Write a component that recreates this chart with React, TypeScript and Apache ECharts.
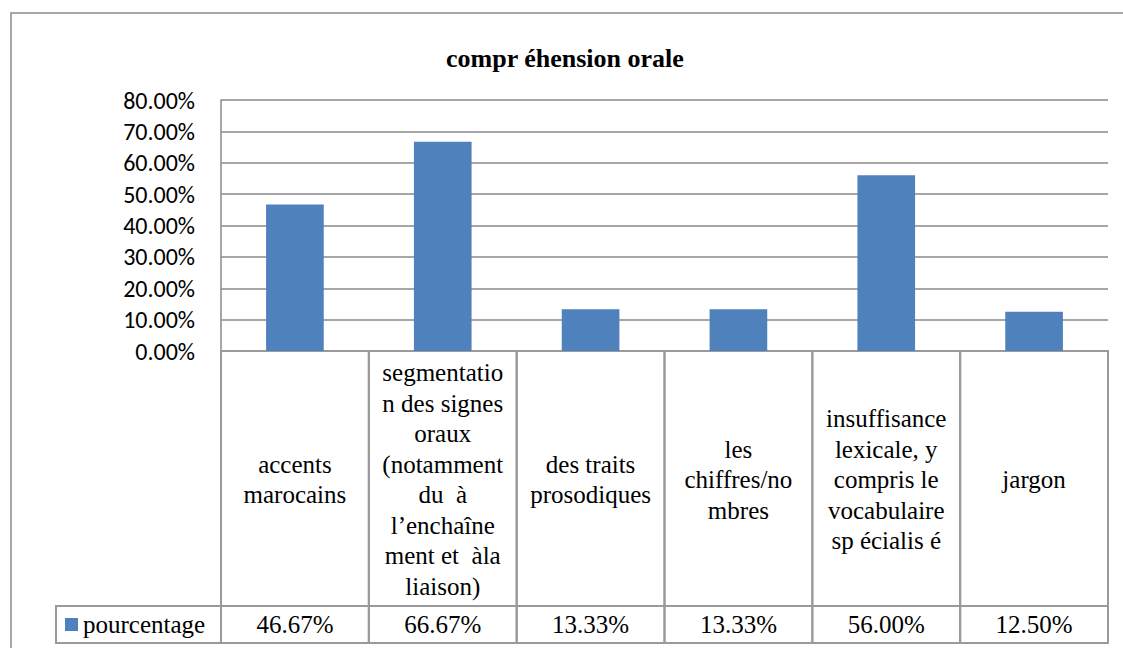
import React, { useEffect, useRef } from 'react';
import * as echarts from 'echarts';

const chartTitle = 'compr éhension orale';
const seriesName = 'pourcentage';
const categories = [
  'accents\nmarocains',
  'segmentatio\nn des signes\noraux\n(notamment\ndu  à\nl’enchaîne\nment et  àla\nliaison)',
  'des traits\nprosodiques',
  'les\nchiffres/no\nmbres',
  'insuffisance\nlexicale, y\ncompris le\nvocabulaire\nsp écialis é',
  'jargon',
];
const values = [46.67, 66.67, 13.33, 13.33, 56.0, 12.5];
const yMin = 0;
const yMax = 80;
const yInterval = 10;

const GRID_COLOR = '#8a8a8a';
const TABLE_COLOR = '#9a9a9a';
const BAR_COLOR = '#4F81BD';
const CAT_ROW_H = 255;
const VALUE_ROW_H = 37;

const fmt = (v: number) => `${v.toFixed(2)}%`;

export default function App() {
  const ref = useRef<HTMLDivElement>(null);

  useEffect(() => {
    if (!ref.current) return;
    const chart = echarts.init(ref.current, undefined, { renderer: 'svg' });

    chart.setOption({
      animation: false,
      textStyle: { fontFamily: 'Liberation Serif' },
      title: {
        text: chartTitle,
        left: 441,
        top: 40,
        textStyle: { fontFamily: 'Liberation Serif', fontSize: 26, fontWeight: 'bold', color: '#000' },
      },
      legend: {
        data: [seriesName],
        left: 60,
        top: 607,
        icon: 'rect',
        itemWidth: 13,
        itemHeight: 13,
        selectedMode: false,
        textStyle: { fontFamily: 'Liberation Serif', fontSize: 25, color: '#000' },
      },
      grid: { left: 221, top: 100, width: 887, height: 251 },
      xAxis: {
        type: 'category',
        data: categories,
        axisLabel: { show: false },
        axisTick: { show: false },
        axisLine: { show: true, lineStyle: { color: GRID_COLOR, width: 1.5 } },
      },
      yAxis: {
        type: 'value',
        min: yMin,
        max: yMax,
        interval: yInterval,
        axisLine: { show: true, lineStyle: { color: GRID_COLOR, width: 1.5 } },
        axisTick: { show: false },
        axisLabel: {
          formatter: (v: number) => fmt(v),
          margin: 26,
          fontFamily: 'Carlito',
          fontSize: 24,
          color: '#000',
        },
        splitLine: { show: true, lineStyle: { color: GRID_COLOR, width: 1.5 } },
      },
      series: [
        {
          name: seriesName,
          type: 'bar',
          data: values,
          barWidth: '39%',
          itemStyle: { color: BAR_COLOR },
        },
        {
          name: 'table',
          type: 'custom',
          clip: false,
          silent: true,
          data: values.map((v, i) => [i, 0]),
          renderItem: (params: any, api: any) => {
            const i = params.dataIndex;
            const p = api.coord([api.value(0), 0]);
            const cx = p[0];
            const top = p[1];
            const bw = api.size([1, 0])[0];
            const split = top + CAT_ROW_H;
            const bottom = split + VALUE_ROW_H;
            const x0 = cx - bw / 2;
            const children: any[] = [
              {
                type: 'rect',
                shape: { x: x0, y: top, width: bw, height: CAT_ROW_H },
                style: { fill: 'none', stroke: TABLE_COLOR, lineWidth: 2 },
              },
              {
                type: 'rect',
                shape: { x: x0, y: split, width: bw, height: VALUE_ROW_H },
                style: { fill: 'none', stroke: TABLE_COLOR, lineWidth: 2 },
              },
              {
                type: 'text',
                style: {
                  text: categories[i],
                  x: cx,
                  y: (top + split) / 2 + 1,
                  align: 'center',
                  verticalAlign: 'middle',
                  fontFamily: 'Liberation Serif',
                  fontSize: 25,
                  lineHeight: 30.5,
                  fill: '#000',
                },
              },
              {
                type: 'text',
                style: {
                  text: fmt(values[i]),
                  x: cx,
                  y: (split + bottom) / 2,
                  align: 'center',
                  verticalAlign: 'middle',
                  fontFamily: 'Liberation Serif',
                  fontSize: 25,
                  fill: '#000',
                },
              },
            ];
            if (i === 0) {
              children.push({
                type: 'rect',
                shape: { x: 56, y: split, width: x0 - 56, height: VALUE_ROW_H },
                style: { fill: 'none', stroke: TABLE_COLOR, lineWidth: 2 },
              });
            }
            return { type: 'group', children };
          },
        },
      ],
      graphic: [
        {
          type: 'rect',
          silent: true,
          shape: { x: 11, y: 13, width: 1120, height: 640 },
          style: { fill: 'none', stroke: '#8c8c8c', lineWidth: 1.5 },
        },
      ],
    });
    return () => chart.dispose();
  }, []);

  return <div ref={ref} style={{ position: 'absolute', left: 0, top: 0, width: 1123, height: 648 }} />;
}
